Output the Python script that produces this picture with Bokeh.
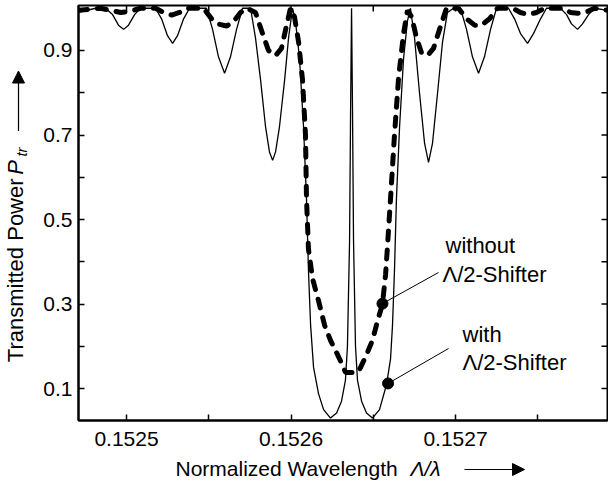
import numpy as np
from bokeh.plotting import figure
from bokeh.layouts import column, row
from bokeh.models import (FixedTicker, NumeralTickFormatter, Range1d,
                          Label, Arrow, NormalHead)
from bokeh.embed import file_html
from bokeh.resources import INLINE

# ---------------- data ----------------
wl_with = [0.1524708, 0.1524812, 0.1524872, 0.1524915, 0.1524951, 0.1524982, 0.1525012, 0.1525049, 0.1525085,
           0.1525176, 0.1525213, 0.1525249, 0.1525280, 0.1525310, 0.1525347, 0.1525383,
           0.1525486, 0.1525523, 0.1525559, 0.1525596, 0.1525632, 0.1525669, 0.1525705,
           0.1525754, 0.1525784, 0.1525815, 0.1525845, 0.1525869, 0.1525888, 0.1525906, 0.1525930,
           0.1525961, 0.1525985, 0.1526009,
           0.1526027, 0.1526052, 0.1526076, 0.1526094, 0.1526106, 0.1526119, 0.1526137, 0.1526167,
           0.1526198, 0.1526240, 0.1526277, 0.1526307, 0.1526331, 0.1526343, 0.1526356, 0.1526362,
           0.1526368, 0.1526374, 0.1526380, 0.1526392, 0.1526404, 0.1526429, 0.1526459, 0.1526495,
           0.1526538, 0.1526581, 0.1526605, 0.1526617, 0.1526629, 0.1526641, 0.1526660, 0.1526684,
           0.1526708, 0.1526726,
           0.1526751, 0.1526781, 0.1526812, 0.1526836, 0.1526860, 0.1526891, 0.1526921, 0.1526951, 0.1526988,
           0.1527030, 0.1527067, 0.1527103, 0.1527140, 0.1527176, 0.1527213, 0.1527249,
           0.1527322, 0.1527359, 0.1527395, 0.1527438, 0.1527474, 0.1527517, 0.1527553,
           0.1527638, 0.1527675, 0.1527705, 0.1527742, 0.1527772, 0.1527809, 0.1527845, 0.1527924]
p_with = [0.99, 1.0, 1.0, 0.985, 0.96, 0.95, 0.96, 0.985, 1.0,
          1.0, 0.975, 0.935, 0.917, 0.935, 0.975, 1.0,
          1.0, 0.95, 0.885, 0.846, 0.885, 0.95, 1.0,
          1.0, 0.93, 0.83, 0.72, 0.66, 0.64, 0.66, 0.72,
          0.83, 0.93, 1.0,
          0.97, 0.88, 0.72, 0.55, 0.38, 0.25, 0.15, 0.088,
          0.05, 0.03, 0.042, 0.07, 0.12, 0.2, 0.45, 0.75,
          1.0, 0.75, 0.45, 0.2, 0.12, 0.07, 0.042, 0.03,
          0.05, 0.11, 0.17, 0.25, 0.38, 0.55, 0.72, 0.88,
          0.97, 1.0,
          0.93, 0.8, 0.68, 0.635, 0.68, 0.8, 0.92, 0.99, 1.0,
          1.0, 0.95, 0.885, 0.846, 0.885, 0.95, 1.0,
          1.0, 0.975, 0.94, 0.917, 0.94, 0.975, 1.0,
          1.0, 0.985, 0.963, 0.95, 0.963, 0.985, 1.0, 0.995]

wl_without = [0.1524708, 0.1524842, 0.1524903, 0.1524964, 0.1525024, 0.1525085,
              0.1525176, 0.1525225, 0.1525274, 0.1525322, 0.1525371,
              0.1525468, 0.1525517, 0.1525565, 0.1525608, 0.1525650, 0.1525693, 0.1525730,
              0.1525784, 0.1525827, 0.1525863, 0.1525906, 0.1525942, 0.1525973, 0.1525997,
              0.1526021, 0.1526046, 0.1526070, 0.1526088, 0.1526094, 0.1526106, 0.1526131, 0.1526167,
              0.1526204, 0.1526240, 0.1526283, 0.1526319, 0.1526331, 0.1526404, 0.1526423, 0.1526459,
              0.1526495, 0.1526526, 0.1526556, 0.1526575, 0.1526587, 0.1526605, 0.1526629, 0.1526654,
              0.1526684, 0.1526708,
              0.1526733, 0.1526763, 0.1526793, 0.1526830, 0.1526866, 0.1526903, 0.1526945,
              0.1527018, 0.1527067, 0.1527116, 0.1527158, 0.1527207, 0.1527255,
              0.1527347, 0.1527395, 0.1527444, 0.1527492, 0.1527541,
              0.1527650, 0.1527699, 0.1527742, 0.1527790, 0.1527845, 0.1527924]
p_without = [0.995, 1.0, 0.995, 0.99, 0.993, 1.0,
             1.0, 0.99, 0.984, 0.99, 1.0,
             1.0, 0.975, 0.962, 0.958, 0.968, 0.99, 1.0,
             0.99, 0.94, 0.9, 0.888, 0.905, 0.96, 1.0,
             0.98, 0.92, 0.83, 0.7, 0.55, 0.43, 0.36, 0.308,
             0.25, 0.214, 0.18, 0.15, 0.138, 0.138, 0.15, 0.18,
             0.214, 0.26, 0.3, 0.37, 0.44, 0.55, 0.7, 0.836,
             0.94, 0.995,
             0.98, 0.93, 0.895, 0.888, 0.905, 0.95, 1.0,
             1.0, 0.975, 0.96, 0.96, 0.975, 1.0,
             1.0, 0.99, 0.985, 0.99, 1.0,
             1.0, 0.99, 0.988, 0.99, 1.0, 0.995]

marker_wl = [0.1526556, 0.1526590]
marker_p = [0.301, 0.112]

x_ticks = [0.1525, 0.1526, 0.1527]
x_minor = [0.15255, 0.15265, 0.15275]
y_ticks = [0.1, 0.3, 0.5, 0.7, 0.9]
y_minor = [0.2, 0.4, 0.6, 0.8]

X0, X1 = 0.1524708, 0.1527924
Y0, Y1 = 0.0243, 1.0065

# ---------------- layout (page pixels) ----------------
TOTAL_W, TOTAL_H = 608, 485
YLAB_W = 40
MAIN_W = TOTAL_W - YLAB_W
FL, FR, FT, FB = 78, 607, 5, 420          # frame edges
MAIN_H = 456
XLAB_H = TOTAL_H - MAIN_H


def PX(x):
    return X0 + (x - FL) / (FR - FL) * (X1 - X0)


def PY(y):
    return Y1 - (y - FT) / (FB - FT) * (Y1 - Y0)


FONT = "Liberation Sans"

p = figure(width=MAIN_W, height=MAIN_H, x_range=Range1d(X0, X1), y_range=Range1d(Y0, Y1),
           output_backend="svg", toolbar_location=None,
           min_border_left=FL - YLAB_W, min_border_right=TOTAL_W - FR,
           min_border_top=FT, min_border_bottom=MAIN_H - FB)
p.grid.visible = False
p.outline_line_color = "black"
p.outline_line_width = 2
p.background_fill_color = "white"
p.border_fill_color = "white"


def style_axis(ax):
    ax.axis_line_width = 2
    ax.axis_line_color = "black"
    ax.major_tick_in = 6
    ax.major_tick_out = 0
    ax.minor_tick_in = 6
    ax.minor_tick_out = 0
    ax.major_tick_line_width = 1.5
    ax.minor_tick_line_width = 1.5
    ax.major_tick_line_color = "black"
    ax.minor_tick_line_color = "black"
    ax.major_label_text_font = FONT
    ax.major_label_text_font_size = "21px"
    ax.major_label_text_color = "black"


p.xaxis.ticker = FixedTicker(ticks=x_ticks, minor_ticks=x_minor)
p.xaxis.formatter = NumeralTickFormatter(format="0.0000")
p.yaxis.ticker = FixedTicker(ticks=y_ticks, minor_ticks=y_minor)
p.yaxis.formatter = NumeralTickFormatter(format="0.0")
for ax in p.xaxis:
    style_axis(ax)
    ax.major_label_standoff = 11
for ax in p.yaxis:
    style_axis(ax)
    ax.major_label_standoff = 6

# inward ticks on the top and right frame edges
tick_dy = 6 * (Y1 - Y0) / (FB - FT)
tick_dx = 6 * (X1 - X0) / (FR - FL)
all_x = x_ticks + x_minor
all_y = y_ticks + y_minor
p.segment(x0=all_x, y0=[Y1] * len(all_x), x1=all_x, y1=[Y1 - tick_dy] * len(all_x),
          line_color="black", line_width=1.5)
p.segment(x0=[X1] * len(all_y), y0=all_y, x1=[X1 - tick_dx] * len(all_y), y1=all_y,
          line_color="black", line_width=1.5)

# ---------------- curves ----------------
p.line(wl_with, p_with, line_color="black", line_width=1.3)
p.line(wl_without, p_without, line_color="black", line_width=5,
       line_dash="9 10", line_cap="round")

# markers and leader lines
p.scatter(marker_wl, marker_p, marker="circle", size=11, fill_color="black", line_color="black")
p.segment(x0=marker_wl, y0=marker_p,
          x1=[PX(438), PX(448)], y1=[PY(272), PY(348)],
          line_color="black", line_width=1)

# annotation texts: (text, left x, vertical centre y) in page pixels
ann = [("without", 445, 245), ("Λ/2-Shifter", 442, 274),
       ("with", 462, 334), ("Λ/2-Shifter", 462, 362)]
for txt, xx, yy in ann:
    p.add_layout(Label(x=PX(xx), y=PY(yy), text=txt, text_font=FONT, text_font_size="22px",
                       text_align="left", text_baseline="middle", text_color="black"))


# ---------------- axis titles (own small figures) ----------------
def blank(w, h):
    f = figure(width=w, height=h, x_range=Range1d(0, w), y_range=Range1d(0, h),
               output_backend="svg", toolbar_location=None,
               x_axis_location=None, y_axis_location=None,
               min_border=0, min_border_left=0, min_border_right=0,
               min_border_top=0, min_border_bottom=0)
    f.grid.visible = False
    f.outline_line_color = None
    f.background_fill_color = "white"
    f.border_fill_color = "white"
    return f


ylab = blank(YLAB_W, MAIN_H)
ang = np.pi / 2


def YL(py):
    return MAIN_H - py


ylab.add_layout(Label(x=15, y=YL(291), text="Transmitted Power", angle=ang, text_font=FONT,
                      text_font_size="22px", text_align="center", text_baseline="middle",
                      text_color="black"))
ylab.add_layout(Label(x=15, y=YL(178), text="P", angle=ang, text_font=FONT,
                      text_font_style="italic", text_font_size="22px",
                      text_align="center", text_baseline="middle", text_color="black"))
ylab.add_layout(Label(x=21, y=YL(161), text="tr", angle=ang, text_font=FONT,
                      text_font_style="italic", text_font_size="15px",
                      text_align="center", text_baseline="middle", text_color="black"))
ylab.add_layout(Arrow(x_start=18, y_start=YL(138), x_end=18, y_end=YL(72),
                      line_width=1.2, line_color="black",
                      end=NormalHead(size=12, fill_color="black", line_color="black")))

xlab = blank(TOTAL_W, XLAB_H)


def XY(py):
    return TOTAL_H - py


xlab.add_layout(Label(x=175, y=XY(468), text="Normalized Wavelength", text_font=FONT,
                      text_font_size="21px", text_align="left", text_baseline="middle",
                      text_color="black"))
xlab.add_layout(Label(x=410, y=XY(468), text="Λ/λ", text_font=FONT, text_font_style="italic",
                      text_font_size="21px", text_align="left", text_baseline="middle",
                      text_color="black"))
xlab.add_layout(Arrow(x_start=464, y_start=XY(469), x_end=524, y_end=XY(469),
                      line_width=1.2, line_color="black",
                      end=NormalHead(size=12, fill_color="black", line_color="black")))

layout = column(row(ylab, p, spacing=0), xlab, spacing=0)

open("out.html", "w").write(file_html(layout, INLINE))
